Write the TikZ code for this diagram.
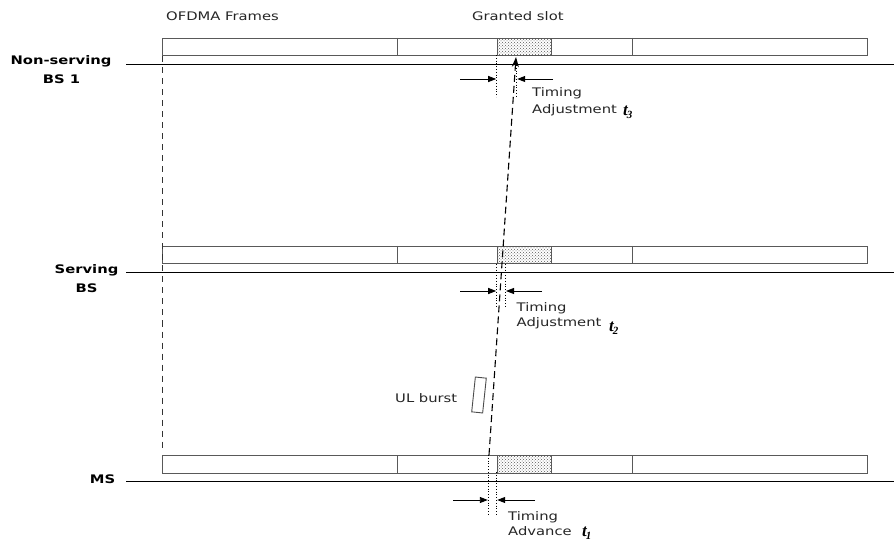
\documentclass[tikz,border=0pt]{standalone}
\usepackage{fontspec}
\setmainfont{DejaVu Sans}[FakeStretch=1.25]
\newfontfamily\tfont{Liberation Serif}
\usetikzlibrary{arrows.meta,patterns}
\begin{document}
\begin{tikzpicture}[x=1pt,y=-1pt,
  frame/.style={draw=black!65, line width=1pt, minimum width=705, minimum height=17.5, anchor=north west, inner sep=0pt},
  slotbox/.style={draw=black!65, line width=1pt, pattern=crosshatch dots, pattern color=black!65, minimum width=54, minimum height=17.5, anchor=north west, inner sep=0pt},
  divider/.style={draw=black!65, line width=1pt},
  axis/.style={draw=black, line width=1.1pt},
  lbl/.style={font=\fontsize{11.8}{14}\selectfont, anchor=base west, inner sep=0pt, text=black!85},
  blbl/.style={font=\fontsize{11.8}{14}\selectfont\bfseries, anchor=base, inner sep=0pt},
  tlbl/.style={anchor=base west, inner sep=0pt},
  guide/.style={dotted, line width=0.8pt},
  tip/.style={-{Triangle[length=8pt,width=6pt]}, line width=0.9pt},
  path/.style={dashed, dash pattern=on 7pt off 4pt, line width=1.1pt},
  leftpath/.style={dashed, dash pattern=on 6pt off 5pt, line width=1pt, draw=black!80},
]
\useasboundingbox (0,0) rectangle (894,545);
\fill[white] (0,0) rectangle (894,545);

% frames
\node[frame] (fns) at (162,38) {};
\node[frame] (fsv) at (162,246) {};
\node[frame] (fms) at (162,455) {};
\foreach \f in {fns,fsv,fms}{
  \draw[divider] ([xshift=235pt]\f.north west) -- ([xshift=235pt]\f.south west);
  \draw[divider] ([xshift=470pt]\f.north west) -- ([xshift=470pt]\f.south west);
}
\node[slotbox] (sns) at (497,38) {};
\node[slotbox] (ssv) at (497,246) {};
\node[slotbox] (sms) at (497,455) {};

% time axes
\coordinate (ans0) at (126,64.5); \coordinate (ans1) at (894,64.5);
\coordinate (asv0) at (126,272.5); \coordinate (asv1) at (894,272.5);
\coordinate (ams0) at (126,481.5); \coordinate (ams1) at (894,481.5);
\draw[axis] (ans0) -- (ans1);
\draw[axis] (asv0) -- (asv1);
\draw[axis] (ams0) -- (ams1);

% left dashed line
\coordinate (ld1) at (162,452);
\draw[leftpath] (fns.south west) -- (ld1);

% main path
\coordinate (pstart) at (489,455);
\coordinate (pend) at (516,57);
\draw[path, -{Stealth[length=10pt,width=7pt]}] (pstart) -- (pend);

% UL burst
\node[draw=black!70, line width=0.9pt, minimum width=11, minimum height=35, rotate=-6, inner sep=0pt] (ul) at (479,395) {};
\node[lbl] (ultext) at (395,402.5) {UL burst};

% guides non-serving
\coordinate (g1a) at (496.7,55); \coordinate (g1b) at (496.7,97);
\coordinate (g2a) at (516.7,65); \coordinate (g2b) at (516.7,97);
\draw[guide] (g1a) -- (g1b);
\draw[guide] (g2a) -- (g2b);
\coordinate (a1l) at (460,79); \coordinate (a1lt) at (496.2,79);
\coordinate (a1r) at (553,79); \coordinate (a1rt) at (517.2,79);
\draw[tip] (a1l) -- (a1lt);
\draw[tip] (a1r) -- (a1rt);
\node[lbl] (tns1) at (532,96.5) {Timing};
\node[lbl] (tns2) at (532,113.3) {Adjustment};
\node[tlbl] (t3) at (623,116) {\tfont\fontsize{17}{17}\selectfont\bfseries\itshape t\kern-1pt\raisebox{-3pt}{\fontsize{11}{11}\selectfont 3}};

% guides serving
\coordinate (g3a) at (496.7,264); \coordinate (g3b) at (496.7,308);
\coordinate (g4a) at (505.5,264); \coordinate (g4b) at (505.5,308);
\draw[guide] (g3a) -- (g3b);
\draw[guide] (g4a) -- (g4b);
\coordinate (a2l) at (460,291); \coordinate (a2lt) at (496.2,291);
\coordinate (a2r) at (542,291); \coordinate (a2rt) at (506,291);
\draw[tip] (a2l) -- (a2lt);
\draw[tip] (a2r) -- (a2rt);
\node[lbl] (tsv1) at (516.5,311.5) {Timing};
\node[lbl] (tsv2) at (516.5,326.5) {Adjustment};
\node[tlbl] (t2) at (609,331) {\tfont\fontsize{17}{17}\selectfont\bfseries\itshape t\kern-1pt\raisebox{-3pt}{\fontsize{11}{11}\selectfont 2}};

% guides MS
\coordinate (g5a) at (488.3,455); \coordinate (g5b) at (488.3,516);
\coordinate (g6a) at (496.7,472); \coordinate (g6b) at (496.7,516);
\draw[guide] (g5a) -- (g5b);
\draw[guide] (g6a) -- (g6b);
\coordinate (a3l) at (453,500); \coordinate (a3lt) at (487.8,500);
\coordinate (a3r) at (535,500); \coordinate (a3rt) at (497.2,500);
\draw[tip] (a3l) -- (a3lt);
\draw[tip] (a3r) -- (a3rt);
\node[lbl] (tms1) at (508,520) {Timing};
\node[lbl] (tms2) at (508,535) {Advance};
\node[tlbl] (t1) at (582,536) {\tfont\fontsize{17}{17}\selectfont\bfseries\itshape t\kern-1pt\raisebox{-3pt}{\fontsize{11}{11}\selectfont 1}};

% top labels
\node[lbl] (ofdma) at (166,20.5) {OFDMA Frames};
\node[lbl] (granted) at (472,20.5) {Granted slot};

% station labels
\node[blbl] (ns1) at (61,65) {Non-serving};
\node[blbl] (ns2) at (61.5,84) {BS 1};
\node[blbl] (sv1) at (86.5,274) {Serving};
\node[blbl] (sv2) at (86.5,292.5) {BS};
\node[blbl] (ms) at (102.5,483) {MS};
\end{tikzpicture}
\end{document}
